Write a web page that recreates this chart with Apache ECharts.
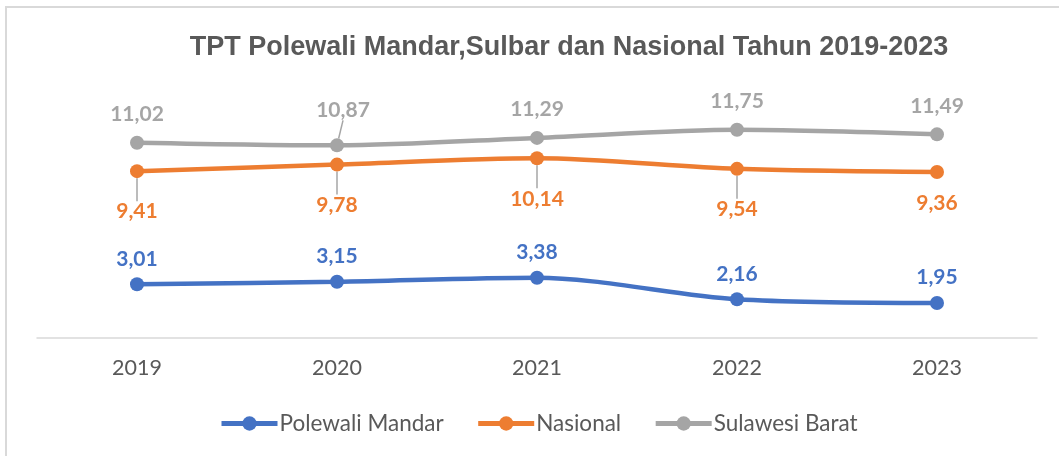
<!DOCTYPE html>
<html>
<head>
<meta charset="utf-8">
<script src="https://cdn.jsdelivr.net/npm/echarts@6/dist/echarts.min.js"></script>
<style>
  html, body { margin: 0; padding: 0; background: #fff; }
  #frame { position: absolute; left: 5px; top: 6px; width: 1070px; height: 470px;
           border-left: 2px solid #d9d9d9; border-top: 2px solid #d9d9d9; box-sizing: border-box; }
  #chart { position: absolute; left: 0; top: 0; width: 1059px; height: 456px; }
</style>
</head>
<body>
<div id="frame"></div>
<div id="chart"></div>
<script>
// Tingkat Pengangguran Terbuka (TPT), persen
const years = ['2019', '2020', '2021', '2022', '2023'];
const polewaliMandar = [3.01, 3.15, 3.38, 2.16, 1.95];
const nasional = [9.41, 9.78, 10.14, 9.54, 9.36];
const sulawesiBarat = [11.02, 10.87, 11.29, 11.75, 11.49];

const fmt = p => p.value.toFixed(2).replace('.', ',');
const labelFont = { fontFamily: 'Lato', fontWeight: 'bold', fontSize: 21 };

function lineSeries(name, data, color, labelPos, dist, moved) {
  return {
    name: name,
    type: 'line',
    smooth: 0.3,
    data: data.map((v, i) => {
      const item = { value: v };
      if (moved && moved[i]) {
        item.labelLine = { show: true, lineStyle: { color: '#a6a6a6', width: 1.5 } };
      }
      return item;
    }),
    symbol: 'circle',
    symbolSize: 14,
    lineStyle: { color: color, width: 4.5 },
    itemStyle: { color: color },
    label: Object.assign({ show: true, position: labelPos, distance: dist, color: color, formatter: fmt }, labelFont),
    labelLayout: moved ? function (p) {
      const m = moved[p.dataIndex];
      return m ? { dx: m[0], dy: m[1] } : {};
    } : undefined,
    emphasis: { disabled: true },
    z: 2
  };
}

const chart = echarts.init(document.getElementById('chart'));
chart.setOption({
  animation: false,
  title: {
    text: 'TPT Polewali Mandar,Sulbar dan Nasional Tahun 2019-2023',
    left: 564, top: 29, textAlign: 'center',
    textStyle: { fontFamily: 'Liberation Sans', fontWeight: 'bold', fontSize: 27, color: '#595959' }
  },
  legend: {
    bottom: 16, left: 214,
    itemWidth: 56, itemHeight: 18, itemGap: 32,
    lineStyle: { width: 5 },
    textStyle: { fontFamily: 'Lato', fontSize: 22.5, color: '#595959', padding: [0, 0, 0, -3] },
    data: ['Polewali Mandar', 'Nasional', 'Sulawesi Barat']
  },
  grid: { left: 37, right: 22, top: 90, bottom: 118.5 },
  xAxis: {
    type: 'category', data: years, boundaryGap: true,
    axisLine: { lineStyle: { color: '#d9d9d9', width: 1.5 } },
    axisTick: { show: false },
    axisLabel: { margin: 20, color: '#595959', fontFamily: 'Lato', fontSize: 21.5 }
  },
  yAxis: { type: 'value', min: 0, max: 14, show: false, splitLine: { show: false } },
  series: [
    lineSeries('Polewali Mandar', polewaliMandar, '#4472C4', 'top', 8),
    lineSeries('Nasional', nasional, '#ED7D31', 'bottom', 14, [[0, 9], [0, 9], [0, 9], [0, 9], null]),
    lineSeries('Sulawesi Barat', sulawesiBarat, '#A5A5A5', 'top', 11, [null, [6, -7], null, null, null])
  ]
});
</script>
</body>
</html>
